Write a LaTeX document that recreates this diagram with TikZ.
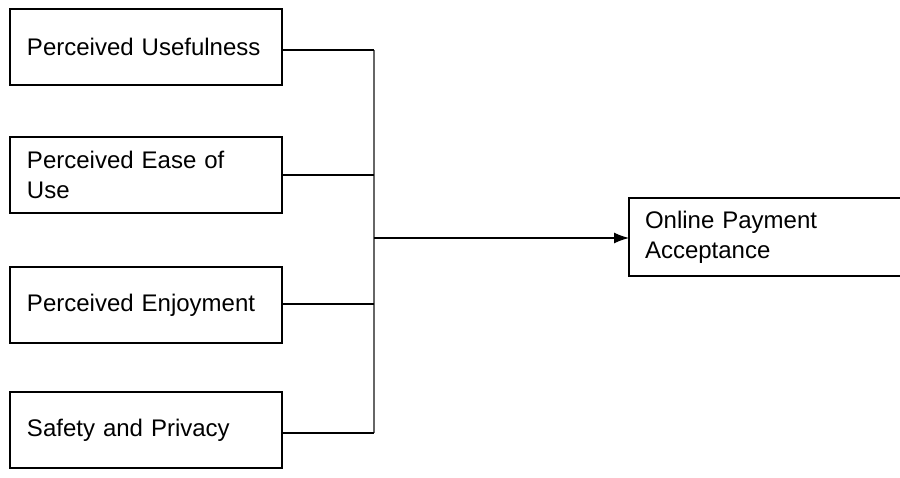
\documentclass[tikz,border=0pt]{standalone}
\usepackage{fontspec}
\setmainfont{Liberation Sans}
\usetikzlibrary{arrows.meta}
\begin{document}
\begin{tikzpicture}[x=1pt,y=-1pt,
  box/.style={draw=black, line width=1.6pt, rectangle, outer sep=0pt,
    minimum width=272pt, minimum height=76pt, inner xsep=17pt, inner ysep=0pt,
    text width=238pt, align=left, anchor=north west,
    font=\fontsize{24}{30}\selectfont},
  conn/.style={line width=1.3pt, draw=black},
  bus/.style={line width=1.6pt, draw=black!60}]
\useasboundingbox (0,0) rectangle (900,478);
\node[box] (pu) at (10,9) {Perceived Usefulness};
\node[box] (pe) at (10,137) {Perceived Ease of\\Use};
\node[box] (pj) at (10,267) {Perceived Enjoyment};
\node[box] (sp) at (10,392) {Safety and Privacy};
\node[box, minimum width=300pt, minimum height=78pt, inner xsep=16pt, text width=268pt] (opa) at (629,198) {Online Payment\\Acceptance};
\coordinate (bt) at (374,50);
\coordinate (bb) at (374,433);
\coordinate (bm) at (374,238);
\draw[bus] (bt) -- (bb);
\draw[conn] ([yshift=-3pt]pu.east) -- ([yshift=-3pt]pu.east -| bt);
\draw[conn] (pe.east) -- (pe.east -| bt);
\draw[conn] ([yshift=1pt]pj.east) -- ([yshift=1pt]pj.east -| bt);
\draw[conn] ([yshift=-3pt]sp.east) -- ([yshift=-3pt]sp.east -| bt);
\draw[conn, -{Latex[length=15pt,width=11pt]}] (bm) -- (bm -| opa.west);
\end{tikzpicture}
\end{document}
